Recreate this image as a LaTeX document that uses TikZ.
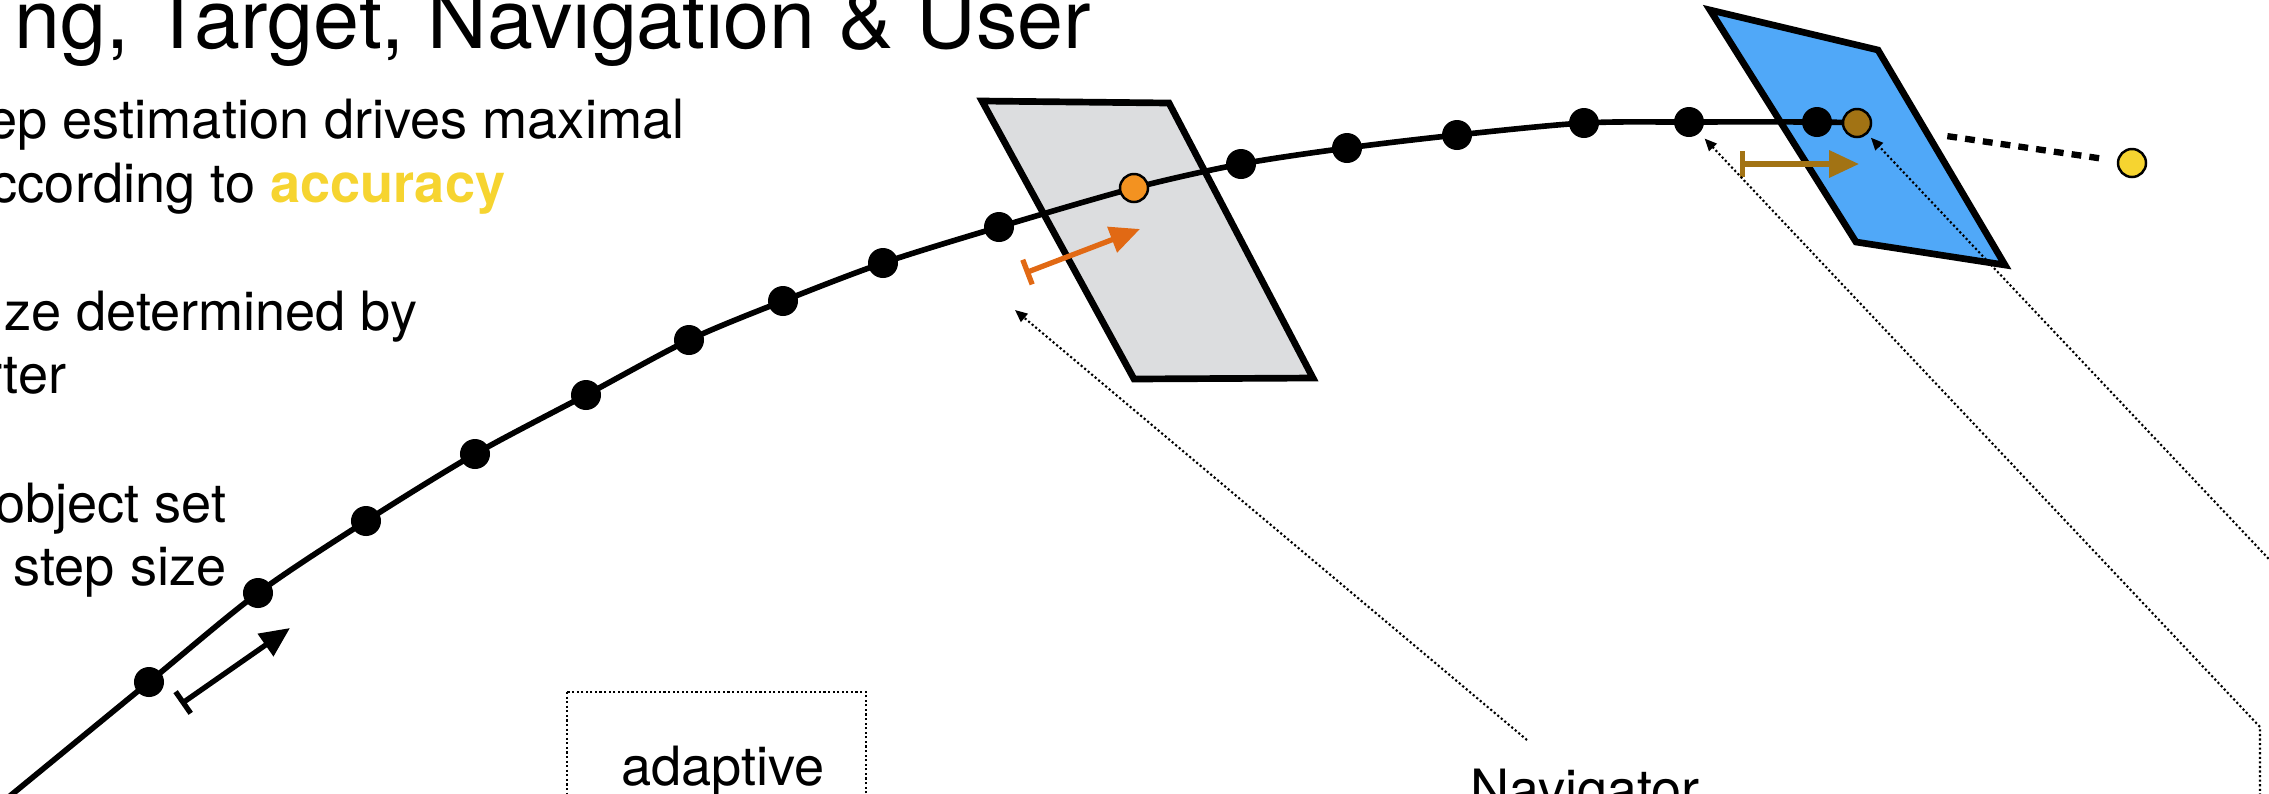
\documentclass[tikz,border=0pt]{standalone}
\usepackage{fontspec}
\setmainfont{TeX Gyre Heros}
\usetikzlibrary{arrows.meta}
\usetikzlibrary{positioning}

\definecolor{panelgray}{RGB}{220,221,223}
\definecolor{panelblue}{RGB}{80,168,248}
\definecolor{dotorange}{RGB}{243,146,32}
\definecolor{arroworange}{RGB}{225,105,20}
\definecolor{dotbrown}{RGB}{162,115,20}
\definecolor{dotyellow}{RGB}{246,212,48}

\begin{document}
\begin{tikzpicture}[x=0.01cm,y=-0.01cm]

    % Define styles
    \tikzstyle{slidetitle} = [anchor=base east, inner sep=0, font=\fontsize{23.5}{28}\selectfont]
    \tikzstyle{bodytext} = [anchor=base east, inner sep=0, font=\fontsize{15.4}{18}\selectfont]
    \tikzstyle{labeltext} = [anchor=base, inner sep=0, font=\fontsize{15.4}{18}\selectfont]
    \tikzstyle{dot} = [circle, fill=black, inner sep=0, minimum size=0.3cm]
    \tikzstyle{colordot} = [circle, draw, line width=0.7pt, inner sep=0, minimum size=0.28cm]
    \tikzstyle{track} = [line width=1.6pt]
    \tikzstyle{panel} = [draw, line width=1.9pt, line join=miter]
    \tikzstyle{stepline} = [line width=1.5pt, {Bar[width=7.5pt]}-{Triangle[length=8.5pt,width=7.5pt]}]
    \tikzstyle{pointer} = [line width=0.6pt, dash pattern=on 0.6pt off 0.7pt, -{Triangle[length=3.5pt,width=3pt]}]
    \tikzstyle{goalline} = [line width=1.8pt, dash pattern=on 2.8pt off 2.3pt]

    \useasboundingbox (0,0) rectangle (2269,793);

    % Slide text
    \node[slidetitle] (title) at (1092, 48) {ng, Target, Navigation \& User};
    \node[bodytext] (line1) at (685, 138) {ep estimation drives maximal};
    \node[bodytext] (line2) at (506, 202) {ccording to \textcolor{dotyellow}{\textbf{accuracy}}};
    \node[bodytext] (line3) at (418, 330) {ze determined by};
    \node[bodytext] (line4) at (67, 393) {rter};
    \node[bodytext] (line5) at (227, 522) {object set};
    \node[bodytext] (line6) at (227, 585) {step size};

    % Planes
    \draw[panel, fill=panelgray] (982,101) -- (1169,103) -- (1313,378) -- (1134,379) -- cycle;
    \draw[panel, fill=panelblue] (1710,10) -- (1878,50) -- (2005,265) -- (1856,242) -- cycle;

    % Steps along the path
    \node[dot] (d1) at (149, 682) {};
    \node[dot] (d2) at (258, 593) {};
    \node[dot] (d3) at (366, 521) {};
    \node[dot] (d4) at (475, 454) {};
    \node[dot] (d5) at (586, 395) {};
    \node[dot] (d6) at (689, 340) {};
    \node[dot] (d7) at (783, 301) {};
    \node[dot] (d8) at (883, 263) {};
    \node[dot] (d9) at (999, 227) {};
    \coordinate (hit) at (1134, 188);
    \node[dot] (d10) at (1241, 164) {};
    \node[dot] (d11) at (1347, 148) {};
    \node[dot] (d12) at (1457, 135) {};
    \node[dot] (d13) at (1584, 123) {};
    \node[dot] (d14) at (1689, 122) {};
    \node[dot] (d15) at (1817, 122) {};
    \coordinate (stop) at (1857, 123);
    \coordinate (start) at (-12, 814);

    \draw[track] plot[smooth] coordinates {(start) (d1.center) (d2.center) (d3.center) (d4.center) (d5.center) (d6.center) (d7.center) (d8.center) (d9.center) (hit) (d10.center) (d11.center) (d12.center) (d13.center) (d14.center) (d15.center) (stop)};

    \node[colordot, fill=dotorange] (cross) at (hit) {};
    \node[colordot, fill=dotbrown] (last) at (stop) {};
    \node[colordot, fill=dotyellow] (goal) at (2132, 163) {};
    \draw[goalline, shorten <=0.76cm, shorten >=0.13cm] (last) -- (goal);

    % Step arrows
    \coordinate (s1) at (181, 704);
    \coordinate (e1) at (290, 628);
    \draw[stepline] (s1) -- (e1);
    \coordinate (s2) at (1025, 273);
    \coordinate (e2) at (1140, 229);
    \draw[stepline, arroworange] (s2) -- (e2);
    \coordinate (s3) at (1740, 164);
    \coordinate (e3) at (1859, 164);
    \draw[stepline, dotbrown] (s3) -- (e3);

    % Box and labels
    \draw[line width=0.6pt, dash pattern=on 0.6pt off 0.7pt] (567, 692) rectangle (866, 840);
    \node[labeltext] (adaptive) at (723, 785) {adaptive};
    \node[labeltext] (navigator) at (1585, 808) {Navigator};

    % Pointers
    \coordinate (navfoot) at (1527, 740);
    \coordinate (navtip) at (1015, 310);
    \draw[pointer] (navfoot) -- (navtip);
    \coordinate (low) at (2260, 800);
    \coordinate (bend) at (2260, 727);
    \draw[pointer, shorten >=0.07cm] (low) -- (bend) -- (d14);
    \coordinate (edge) at (2300, 592);
    \draw[pointer, shorten >=0.05cm] (edge) -- (last);

\end{tikzpicture}
\end{document}
